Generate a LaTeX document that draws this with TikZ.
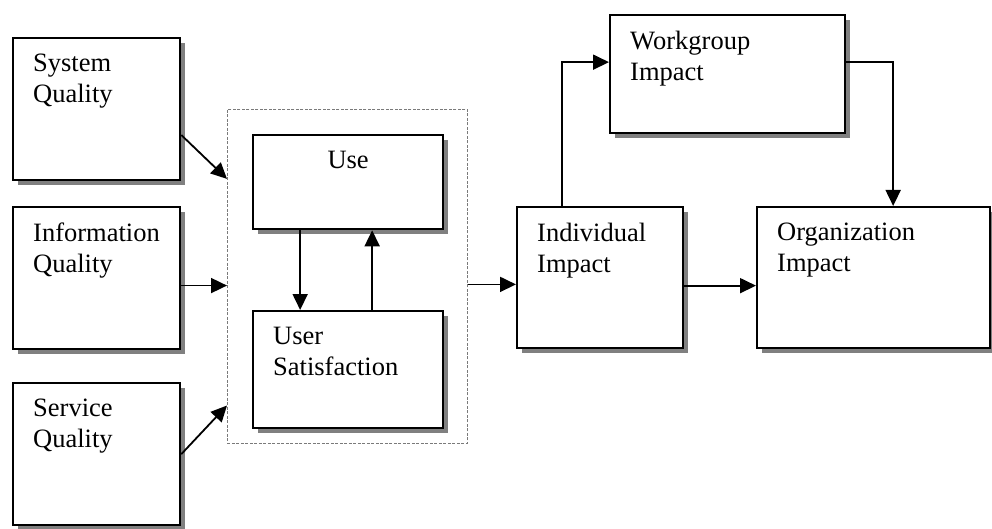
\documentclass[tikz,border=0pt]{standalone}
\usepackage{fontspec}
\setmainfont{Liberation Serif}
\usepackage{tikz}
\usetikzlibrary{positioning,arrows.meta,shadows}
\definecolor{shadowGray}{HTML}{808080}
\definecolor{frameGray}{HTML}{7A7A7A}
\tikzset{
  dmbox/.style={draw, line width=2.3pt, anchor=north west, inner sep=0pt,
                fill=white,
                drop shadow={shadow xshift=5pt, shadow yshift=-5pt,
                             fill=shadowGray, opacity=1}},
  qualbox/.style={dmbox, minimum width=167pt, minimum height=142pt},
  labeltext/.style={inner sep=0pt, align=left,
                    font=\fontsize{26.5}{30.5}\selectfont, yshift=-17pt},
  boxtext/.style={labeltext, anchor=north west, xshift=21pt},
  midtext/.style={labeltext, anchor=north},
  groupbox/.style={draw=frameGray, line width=0.8pt,
                   dash pattern=on 3pt off 1.5pt, anchor=north west,
                   minimum width=240pt, minimum height=334pt, inner sep=0pt},
  dmarrow/.style={-{Triangle[length=16pt, width=15pt]}, line width=1.8pt},
}

\begin{document}
\begin{tikzpicture}[x=1pt, y=-1pt]
\useasboundingbox (0,0) rectangle (992,529);
% Column x-positions (top-left corners)
\def\xQual{12}   \def\xUse{252}
\def\xIndiv{516} \def\xOrg{756}  \def\xWork{609}

%% Use / satisfaction group
\node[groupbox] (usegroup) at (227,109) {};

%% Quality boxes
\node[qualbox, label={[boxtext]north west:System\\Quality}]      (sysq)  at (\xQual, 37)  {};
\node[qualbox, label={[boxtext]north west:Information\\Quality}] (infq)  at (\xQual, 206) {};
\node[qualbox, label={[boxtext]north west:Service\\Quality}]     (servq) at (\xQual, 382) {};

%% Use and User Satisfaction
\node[dmbox, minimum width=190pt, minimum height=94pt,
      label={[midtext]north:Use}] (use) at (\xUse, 134) {};
\node[dmbox, minimum width=190pt, minimum height=117pt,
      label={[boxtext]north west:User\\Satisfaction}] (usat) at (\xUse, 310) {};

%% Impact boxes
\node[dmbox, minimum width=166pt, minimum height=141pt,
      label={[boxtext]north west:Individual\\Impact}] (indiv) at (\xIndiv, 206) {};
\node[dmbox, minimum width=235pt, minimum height=118pt,
      label={[boxtext]north west:Workgroup\\Impact}] (wgrp) at (\xWork, 14) {};
\node[dmbox, minimum width=233pt, minimum height=141pt,
      label={[boxtext]north west:Organization\\Impact}] (org) at (\xOrg, 206) {};

%% Arrows into the group
\draw[dmarrow] (sysq.-17) -- (usegroup.141);
\draw[dmarrow] (infq.-5) -- (infq.-5 -| usegroup.west);
\draw[dmarrow] (servq.east) -- (usegroup.227);

%% Use <-> User Satisfaction
\draw[dmarrow] ([xshift=-48pt]use.south) -- ([xshift=-48pt]use.south |- usat.north);
\draw[dmarrow] ([xshift=24pt]usat.north) -- ([xshift=24pt]usat.north |- use.south);

%% Impacts
\draw[dmarrow] ([yshift=-8pt]usegroup.east) -- ([yshift=-8pt]usegroup.east -| indiv.west);
\draw[dmarrow] ([yshift=-8pt]indiv.east) -- ([yshift=-8pt]indiv.east -| org.west);
\draw[dmarrow] ([xshift=-38pt]indiv.north) |- ([yshift=12pt]wgrp.west);
\draw[dmarrow] ([yshift=12pt]wgrp.east) -| ([xshift=19.5pt]org.north);
\end{tikzpicture}
\end{document}
